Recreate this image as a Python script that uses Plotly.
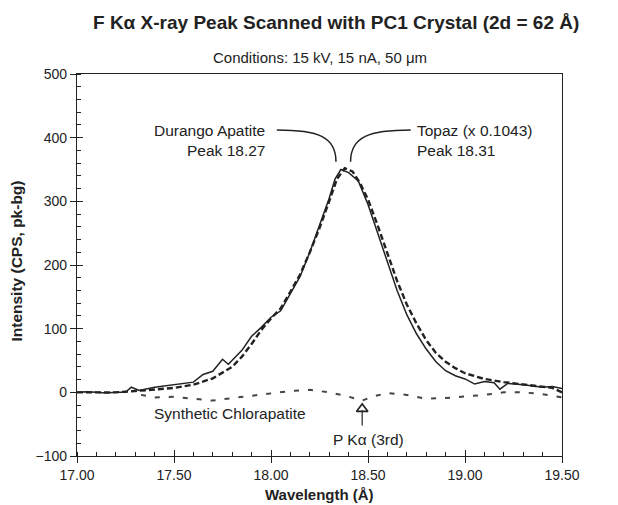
import plotly.graph_objects as go

# Durango apatite (solid line)
durango_wl = [17.00, 17.05, 17.10, 17.15, 17.20, 17.25, 17.28, 17.32, 17.40, 17.50,
              17.60, 17.65, 17.70, 17.75, 17.78, 17.85, 17.90, 17.95, 18.00, 18.05,
              18.10, 18.15, 18.20, 18.25, 18.30, 18.33, 18.36, 18.40, 18.45, 18.50,
              18.55, 18.60, 18.65, 18.70, 18.75, 18.80, 18.85, 18.90, 18.95, 19.00,
              19.05, 19.10, 19.15, 19.18, 19.22, 19.30, 19.35, 19.40, 19.45, 19.50]
durango_cps = [0, 1, 0, -1, 0, 0, 8, 3, 8, 12,
               16, 28, 33, 52, 44, 66, 88, 102, 118, 128,
               155, 182, 220, 262, 305, 335, 350, 345, 332, 295,
               250, 203, 160, 122, 92, 68, 48, 34, 26, 21,
               13, 17, 15, 5, 14, 12, 10, 8, 9, 6]

# Topaz scaled x 0.1043 (dashed)
topaz_wl = [17.00, 17.10, 17.20, 17.30, 17.40, 17.50, 17.60, 17.70, 17.80, 17.85,
            17.90, 17.95, 18.00, 18.05, 18.10, 18.15, 18.20, 18.25, 18.30, 18.34,
            18.38, 18.42, 18.46, 18.50, 18.55, 18.60, 18.65, 18.70, 18.75, 18.80,
            18.85, 18.90, 18.95, 19.00, 19.10, 19.20, 19.30, 19.40, 19.45, 19.50]
topaz_cps = [0, 0, 0, 2, 4, 7, 12, 22, 40, 56,
             76, 98, 116, 132, 158, 185, 220, 258, 300, 335,
             352, 347, 328, 303, 262, 218, 175, 138, 108, 82,
             62, 48, 38, 30, 21, 16, 12, 9, 7, 0]

# Synthetic chlorapatite (dotted)
chlor_wl = [17.33, 17.40, 17.50, 17.60, 17.70, 17.80, 17.90, 18.00, 18.10, 18.20,
            18.30, 18.38, 18.43, 18.47, 18.52, 18.60, 18.70, 18.80, 18.90, 19.00,
            19.10, 19.20, 19.30, 19.40, 19.50]
chlor_cps = [-4, -8, -7, -10, -13, -9, -5, -2, 2, 4,
             0, -5, -10, -13, -7, -1, -4, -10, -9, -7,
             -4, 0, 0, -3, -8]

x_ticks = [17.0, 17.5, 18.0, 18.5, 19.0, 19.5]
y_ticks = [-100, 0, 100, 200, 300, 400, 500]

INK = "#222222"
FONT = "Liberation Sans, Arial, sans-serif"

fig = go.Figure()
fig.add_trace(go.Scatter(x=chlor_wl, y=chlor_cps, mode="lines",
                         line=dict(color="#444444", width=2, dash="5px,9px")))
fig.add_trace(go.Scatter(x=topaz_wl, y=topaz_cps, mode="lines",
                         line=dict(color=INK, width=2.4, dash="6px,3px")))
fig.add_trace(go.Scatter(x=durango_wl, y=durango_cps, mode="lines",
                         line=dict(color=INK, width=1.5)))

# P K-alpha arrow (open triangle head + stem)
pka_x, pka_tip, pka_tail = 18.47, -22, -52
fig.add_trace(go.Scatter(x=[pka_x, pka_x], y=[pka_tail, pka_tip - 6], mode="lines",
                         line=dict(color=INK, width=1.2)))
fig.add_trace(go.Scatter(x=[pka_x], y=[pka_tip - 4], mode="markers",
                         marker=dict(symbol="triangle-up-open", size=10,
                                     color=INK, line=dict(width=1.6))))

# empty trace to carry the overlay axes (crossing major ticks)
fig.add_trace(go.Scatter(x=[None], y=[None], xaxis="x2", yaxis="y2"))

# curved leader lines
fig.add_shape(type="path", xref="x", yref="y",
              path="M 18.03,412 C 18.24,412 18.335,402 18.335,362",
              line=dict(color=INK, width=1.5))
fig.add_shape(type="path", xref="x", yref="y",
              path="M 18.72,412 C 18.51,412 18.41,402 18.41,362",
              line=dict(color=INK, width=1.5))

txt = dict(size=15.5, color=INK, family=FONT)
fig.add_annotation(x=17.98, y=412, text="Durango Apatite", showarrow=False,
                   xanchor="right", font=txt)
fig.add_annotation(x=17.98, y=380, text="Peak 18.27", showarrow=False,
                   xanchor="right", font=txt)
fig.add_annotation(x=18.74, y=412, text="Topaz (x 0.1043)", showarrow=False,
                   xanchor="left", font=txt)
fig.add_annotation(x=18.74, y=380, text="Peak 18.31", showarrow=False,
                   xanchor="left", font=txt)
fig.add_annotation(x=17.79, y=-33, text="Synthetic Chlorapatite", showarrow=False, font=txt)
fig.add_annotation(x=18.50, y=-74, text="P Kα (3rd)", showarrow=False, font=txt)

# titles
fig.add_annotation(xref="paper", yref="paper", x=0.50, y=1.042, yanchor="middle",
                   text="Conditions: 15 kV, 15 nA, 50 μm", showarrow=False,
                   font=dict(size=15, color=INK, family=FONT))
fig.add_annotation(xref="paper", yref="paper", x=0.501, y=-0.10, yanchor="middle",
                   text="<b>Wavelength (Å)</b>", showarrow=False,
                   font=dict(size=15, color=INK, family=FONT))
fig.add_annotation(xref="paper", yref="paper", x=-0.125, y=0.51, textangle=-90,
                   xanchor="center", yanchor="middle",
                   text="<b>Intensity (CPS, pk-bg)</b>", showarrow=False,
                   font=dict(size=15.5, color=INK, family=FONT))

axis_common = dict(showgrid=False, zeroline=False, showline=True, linecolor=INK,
                   linewidth=1.2, mirror=True, tickcolor=INK,
                   tickfont=dict(size=14, color=INK, family=FONT))

fig.update_layout(
    width=610, height=497,
    margin=dict(l=69, r=56, t=66, b=49),
    paper_bgcolor="white", plot_bgcolor="white",
    showlegend=False,
    title=dict(text="<b>F Kα X-ray Peak Scanned with PC1 Crystal (2d = 62 Å)</b>",
               x=0.538, xanchor="center", y=0.972, yanchor="middle",
               font=dict(size=19, color=INK, family=FONT)),
    xaxis=dict(range=[17.0, 19.5], tickvals=x_ticks, tickformat=".2f",
               ticks="outside", ticklen=6, tickwidth=1.2,
               minor=dict(dtick=0.1, tick0=17.0, ticks="inside", ticklen=4,
                          tickcolor=INK, tickwidth=1),
               **axis_common),
    yaxis=dict(range=[-100, 500], tickvals=y_ticks,
               ticks="outside", ticklen=6, tickwidth=1.2,
               minor=dict(dtick=20, tick0=0, ticks="inside", ticklen=4,
                          tickcolor=INK, tickwidth=1),
               **axis_common),
    xaxis2=dict(range=[17.0, 19.5], overlaying="x", side="bottom", tickvals=x_ticks,
                ticks="inside", ticklen=6, tickwidth=1.2, tickcolor=INK,
                showticklabels=False, showgrid=False, zeroline=False, showline=False),
    yaxis2=dict(range=[-100, 500], overlaying="y", side="left", tickvals=y_ticks,
                ticks="inside", ticklen=6, tickwidth=1.2, tickcolor=INK,
                showticklabels=False, showgrid=False, zeroline=False, showline=False),
)

fig.write_html("out.html")
